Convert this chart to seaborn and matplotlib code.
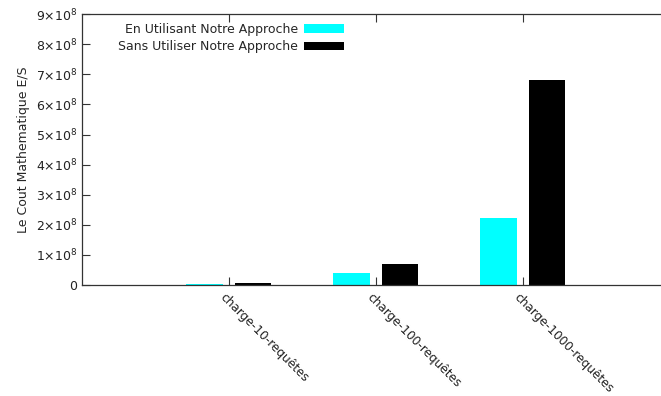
import numpy as np
import pandas as pd
import matplotlib
matplotlib.use("Agg")
import matplotlib.pyplot as plt
import matplotlib.transforms as mtransforms
import seaborn as sns

# data
categories = ["charge-10-requêtes", "charge-100-requêtes", "charge-1000-requêtes"]
avec_approche = [4e6, 4.0e7, 2.24e8]
sans_approche = [6e6, 6.9e7, 6.81e8]
series_names = ["En Utilisant Notre Approche", "Sans Utiliser Notre Approche"]
y_ticks = [0, 1e8, 2e8, 3e8, 4e8, 5e8, 6e8, 7e8, 8e8, 9e8]

df = pd.DataFrame({
    "categorie": categories * 2,
    "cout": avec_approche + sans_approche,
    "serie": [series_names[0]] * 3 + [series_names[1]] * 3,
})

sns.set_style("white")
plt.rcParams["font.family"] = ["DejaVu Sans"]

fig = plt.figure(figsize=(6.61, 3.96), dpi=100)
ax = fig.add_axes([0.124, 0.280, 0.876, 0.6846])

sns.barplot(data=df, x="categorie", y="cout", hue="serie",
            palette=["#00ffff", "#000000"], saturation=1, width=0.664, gap=0.26,
            edgecolor="none", ax=ax)

ax.set_xlim(-1, 2.94)
ax.set_ylim(0, 9e8)
ax.set_yticks(y_ticks)
ax.set_yticklabels(["0"] + [rf"${int(v / 1e8)}{{\times}}10^{{8}}$" for v in y_ticks[1:]])

ax.set_xlabel("")
ax.set_ylabel("Le Cout Mathematique E/S", fontsize=9, labelpad=4)

ax.tick_params(axis="both", direction="in", length=5.5, width=0.8, labelsize=9,
               colors="#333333", labelcolor="#222222")
ax.tick_params(axis="x", top=True, bottom=True)
ax.tick_params(axis="y", left=True)
shift = mtransforms.ScaledTranslation(-7 / 100, -5 / 100, fig.dpi_scale_trans)
for lab in ax.get_xticklabels():
    lab.set_rotation(-45)
    lab.set_ha("left")
    lab.set_va("center")
    lab.set_rotation_mode("anchor")
    lab.set_fontsize(8.7)
    lab.set_transform(lab.get_transform() + shift)

for side in ["left", "bottom", "top"]:
    ax.spines[side].set_color("#333333")
    ax.spines[side].set_linewidth(0.9)
ax.spines["right"].set_visible(False)

leg = ax.legend(loc="upper right", bbox_to_anchor=(0.462, 0.985), frameon=False,
                markerfirst=False, fontsize=9, handlelength=3.2, handleheight=0.7,
                labelspacing=0.35, handletextpad=0.5, borderaxespad=0)
for t in leg.get_texts():
    t.set_ha("right")

fig.savefig("out.png", dpi=100)
